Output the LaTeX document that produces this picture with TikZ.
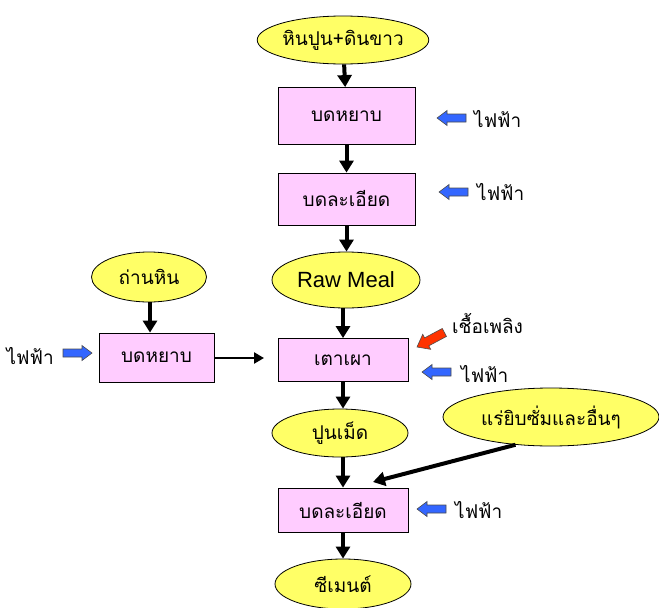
\documentclass[tikz,border=0pt]{standalone}
\usepackage{fontspec}
\setmainfont{Liberation Sans}
\newfontfamily\thaifont[Script=Thai]{Loma}
\usetikzlibrary{shapes.geometric,arrows.meta}
\definecolor{boxpink}{HTML}{FFCCFF}
\definecolor{ellyellow}{HTML}{FFFF66}
\definecolor{barrow}{HTML}{3366FF}
\definecolor{rarrow}{HTML}{FF3300}
\begin{document}
\begin{tikzpicture}[x=1pt,y=-1pt,
  procbox/.style={draw=black, line width=0.8pt, fill=boxpink, rectangle, inner sep=0pt, font=\thaifont\fontsize{19}{22}\selectfont},
  material/.style={draw=black, line width=0.8pt, fill=ellyellow, ellipse, inner sep=0pt, font=\thaifont\fontsize{19}{22}\selectfont},
  flow/.style={line width=4pt, -{Triangle[length=12pt,width=14pt]}},
  thinflow/.style={line width=2.8pt, -{Triangle[length=10pt,width=11pt]}},
  lbl/.style={font=\thaifont\fontsize{19}{22}\selectfont, inner sep=0pt},
  blockarrow/.pic={\filldraw[draw=black!70, line width=0.6pt, fill=#1]
     (0,0) -- (-10,7.5) -- (-10,4) -- (-29,4) -- (-29,-4) -- (-10,-4) -- (-10,-7.5) -- cycle;},
  bigarrow/.pic={\filldraw[draw=black!70, line width=0.6pt, fill=#1]
     (0,0) -- (-11,8.5) -- (-11,4.5) -- (-31,4.5) -- (-31,-4.5) -- (-11,-4.5) -- (-11,-8.5) -- cycle;}
]
\useasboundingbox (0,0) rectangle (659,608);
% main column
\node[material, minimum width=160pt, minimum height=48pt] (lime) at (343,40) {หินปูน+ดินขาว};
\node[procbox, minimum width=137pt, minimum height=57pt] (crush1) at (346.5,116) {บดหยาบ};
\node[procbox, minimum width=137pt, minimum height=52pt] (grind1) at (346.5,199) {บดละเอียด};
\node[material, minimum width=148pt, minimum height=56pt, font=\fontsize{22}{26}\selectfont] (raw) at (346,280) {Raw Meal};
\node[procbox, minimum width=130pt, minimum height=43pt] (kiln) at (343,360) {เตาเผา};
\node[material, minimum width=136pt, minimum height=48pt] (clinker) at (340,433) {ปูนเม็ด};
\node[procbox, minimum width=130pt, minimum height=44pt] (grind2) at (343,510) {บดละเอียด};
\node[material, minimum width=136pt, minimum height=50pt] (cement) at (343,584) {ซีเมนต์};
% left branch
\node[material, minimum width=115pt, minimum height=50pt] (coal) at (149,277) {ถ่านหิน};
\node[procbox, minimum width=115pt, minimum height=49pt] (crush2) at (156.5,357.5) {บดหยาบ};
% gypsum
\node[material, minimum width=216pt, minimum height=58pt] (gyp) at (551,417) {แร่ยิบซั่มและอื่นๆ};
% power labels and block arrows
\pic[rotate=180] at (437,118) {blockarrow=barrow};
\node[lbl, anchor=west] (t1) at (474,119) {ไฟฟ้า};
\pic[rotate=180] at (439,192) {blockarrow=barrow};
\node[lbl, anchor=west] (t2) at (477,192) {ไฟฟ้า};
\pic[rotate=180] at (422,372) {blockarrow=barrow};
\node[lbl, anchor=west] (t3) at (461,374) {ไฟฟ้า};
\pic[rotate=180] at (417,509) {blockarrow=barrow};
\node[lbl, anchor=west] (t4) at (455,510) {ไฟฟ้า};
\pic at (92,353) {blockarrow=barrow};
\node[lbl, anchor=east] (t5) at (54,356) {ไฟฟ้า};
\pic[rotate=208] at (417,347) {bigarrow=rarrow};
\node[lbl, anchor=west] (t6) at (452,323) {เชื้อเพลิง};
% connectors
\draw[flow] (lime) -- (crush1);
\draw[flow] (crush1) -- (grind1);
\draw[flow] (grind1) -- (raw.north -| grind1);
\draw[flow] (raw.south -| kiln) -- (kiln);
\draw[flow] (kiln) -- (clinker.north -| kiln);
\draw[flow] (clinker.south -| grind2) -- (grind2);
\draw[flow] (grind2) -- (cement.north -| grind2);
\draw[flow] (coal.south -| 150,0) -- (crush2.north -| 150,0);
\coordinate (kilnin) at (264,358);
\draw[thinflow] (crush2.east |- kilnin) -- (kilnin);
\coordinate (gyptip) at (373,482);
\draw[flow] (gyp.218) -- (gyptip);
\end{tikzpicture}
\end{document}
